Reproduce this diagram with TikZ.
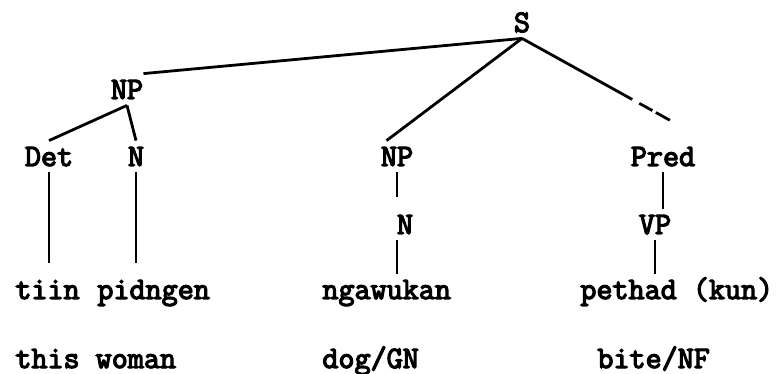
\documentclass[tikz,border=0pt]{standalone}
\usepackage{fontspec}
\newfontfamily\treefont[FakeBold=4]{Latin Modern Mono}
\usetikzlibrary{positioning}

\begin{document}
\begin{tikzpicture}[
    x=0.5pt, y=-0.5pt,
    cat/.style={font=\treefont\fontsize{15.6}{18}\selectfont, anchor=base,
      inner xsep=0pt, inner ysep=3pt, text height=9.5pt, text depth=0pt},
    word/.style={cat, anchor=base west},
    branch/.style={line width=1.4pt}
  ]
    \useasboundingbox (0,0) rectangle (777,374);

    % category labels
    \node[cat] (s) at (522,32) {S};
    \node[cat] (np1) at (127,99) {NP};
    \node[cat] (det) at (49,166) {Det};
    \node[cat] (n1) at (136,166) {N};
    \node[cat] (np2) at (397,166) {NP};
    \node[cat] (n2) at (405,234) {N};
    \node[cat] (pred) at (663,166) {Pred};
    \node[cat] (vp) at (655,234) {VP};

    % words and glosses
    \node[word] (tiin) at (15,299) {tiin};
    \node[word] (pidngen) at (97,299) {pidngen};
    \node[word] (ngawukan) at (322,299) {ngawukan};
    \node[word] (pethad) at (580,299) {pethad (kun)};
    \node[word] (this) at (15,368) {this woman};
    \node[word] (dog) at (322,368) {dog/GN};
    \node[word] (bite) at (597,368) {bite/NF};

    \coordinate (predtop) at (673,122);

    \draw[branch] (s.south) -- (np1.north east);
    \draw[branch] (s.south) -- ([xshift=3pt]np2.north west);
    \draw[branch, dash pattern=on 63pt off 4pt on 7.5pt off 2pt on 8pt] (s.south) -- (predtop);
    \draw[branch] (np1.south) -- (det.north);
    \draw[branch] (np1.south) -- (n1.north);
    \draw[branch, shorten >=5.5pt] (det.south) -- (det.south |- tiin.north);
    \draw[branch, shorten >=5.5pt] (n1.south) -- (n1.south |- pidngen.north);
    \draw[branch, shorten >=6pt] (np2.south) -- (np2.south |- n2.north);
    \draw[branch] (n2.south -| np2.south) -- (np2.south |- ngawukan.north);
    \draw[branch] (pred.south) -- (pred.south |- vp.north);
    \draw[branch] (vp.south) -- (vp.south |- pethad.north);
  \end{tikzpicture}
\end{document}
